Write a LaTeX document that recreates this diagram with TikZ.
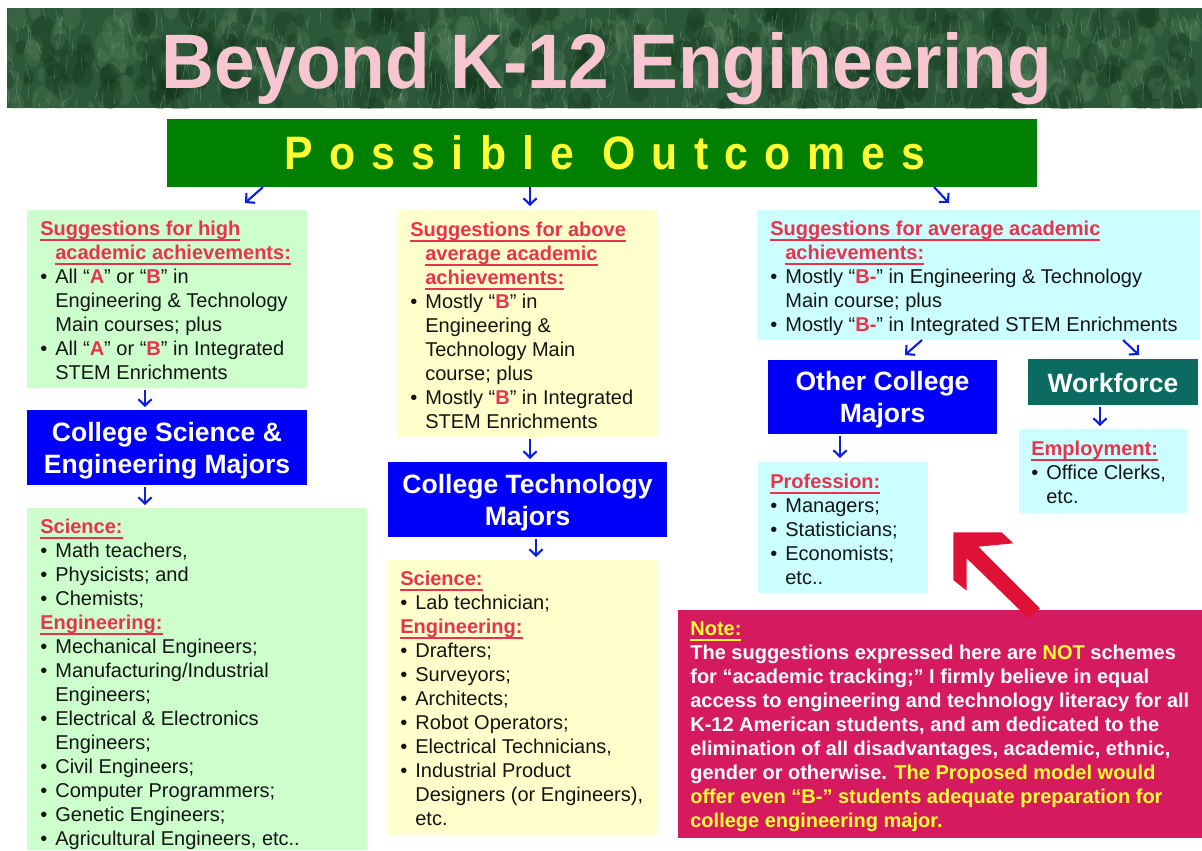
\documentclass[tikz,border=0pt]{standalone}
\usepackage{fontspec}
\setmainfont{Liberation Sans}
\usetikzlibrary{arrows.meta,calc}
\newlength{\pxu}
\setlength{\pxu}{0.02cm}
\newsavebox{\myulbox}
\newcommand{\myul}[1]{\sbox{\myulbox}{#1}\rlap{\rule[-3.1pt]{\wd\myulbox}{0.8pt}}\usebox{\myulbox}}
\definecolor{lgreen}{HTML}{CCFFCC}
\definecolor{lyellow}{HTML}{FFFFCC}
\definecolor{lcyan}{HTML}{CCFFFF}
\definecolor{majblue}{HTML}{0000F8}
\definecolor{wfteal}{HTML}{0B6B60}
\definecolor{hdred}{HTML}{E8334D}
\definecolor{notebg}{HTML}{D61A5F}
\definecolor{noteyel}{HTML}{FFFF33}
\definecolor{bigred}{HTML}{DF1136}
\definecolor{arrblue}{HTML}{0A1EE6}
\definecolor{pogreen}{HTML}{008000}
\definecolor{poyel}{HTML}{FFFF33}
\definecolor{titlepink}{HTML}{F8C6D0}
\definecolor{bandgreen}{HTML}{2B5838}
\definecolor{texlight}{HTML}{6E9A7A}
\definecolor{texdark}{HTML}{123219}
\definecolor{texstroke}{HTML}{A9CBB2}
\definecolor{textblk}{HTML}{141414}
\newcommand{\bodyfont}{\fontsize{11.38pt}{13.66pt}\selectfont}
\newcommand{\majfont}{\fontsize{15.1pt}{18.2pt}\selectfont\bfseries}
\newcommand{\mybul}{\makebox[15\pxu][l]{•}}
\newcommand{\myind}{\hspace*{15\pxu}}
\newcommand{\rl}[1]{\textcolor{hdred}{\bfseries #1}}
\newcommand{\hdr}[1]{\textcolor{hdred}{\bfseries\myul{#1}}}
\tikzset{
  box/.style={anchor=north west, inner sep=0pt, outer sep=0pt},
  txt/.style={anchor=north west, inner sep=0pt, align=left, font=\bodyfont, text=textblk},
  majlbl/.style={inner sep=0pt, text=white, font=\majfont, align=center},
  barrow/.style={draw=arrblue, line width=1.2pt, -{Straight Barb[length=3.6pt,width=7.5pt]}}
}
\begin{document}
\begin{tikzpicture}[x=\pxu, y=-\pxu]
\useasboundingbox (0,0) rectangle (1202,850);
\fill[white] (0,0) rectangle (1202,850);

% title band
\node[box, fill=bandgreen, minimum width=1195\pxu, minimum height=100\pxu] (band) at (7,8) {};
\begin{scope}
\clip (band.north west) rectangle (band.south east);
\pgfmathsetseed{4321}
\foreach \i in {1,...,260}{
  \pgfmathsetmacro{\txa}{7+1195*rnd}
  \pgfmathsetmacro{\tya}{8+100*rnd}
  \pgfmathsetmacro{\tra}{3+8*rnd}
  \fill[texlight, opacity=0.18] (\txa,\tya) ellipse [x radius=\tra\pxu, y radius=1.6*\tra\pxu];
}
\foreach \i in {1,...,220}{
  \pgfmathsetmacro{\txa}{7+1195*rnd}
  \pgfmathsetmacro{\tya}{8+100*rnd}
  \pgfmathsetmacro{\tra}{4+10*rnd}
  \fill[texdark, opacity=0.3] (\txa,\tya) ellipse [x radius=\tra\pxu, y radius=1.3*\tra\pxu];
}
\foreach \i in {1,...,520}{
  \pgfmathsetmacro{\txa}{7+1195*rnd}
  \pgfmathsetmacro{\tya}{8+100*rnd}
  \pgfmathsetmacro{\tdx}{-5+10*rnd}
  \pgfmathsetmacro{\tdy}{6+16*rnd}
  \draw[texstroke, opacity=0.3, line width=0.35pt] (\txa,\tya) -- ++(\tdx,\tdy);
}
\end{scope}
\node[anchor=base, inner sep=0pt, text=titlepink] (title) at (607,88)
  {\resizebox{890\pxu}{56\pxu}{\bfseries Beyond K-12 Engineering}};

% possible outcomes bar
\node[box, fill=pogreen, minimum width=870\pxu, minimum height=68\pxu] (po) at (167,119) {};
\node[inner sep=0pt, text=poyel] (potxt) at ($(po.center)+(3,0)$)
  {\resizebox{640\pxu}{34\pxu}{\bfseries\addfontfeature{LetterSpace=38}Possible Outcomes}};

% boxes
\node[box, fill=lgreen, minimum width=280\pxu, minimum height=178\pxu] (hiA) at (27,210) {};
\node[box, fill=majblue, minimum width=280\pxu, minimum height=75\pxu] (csem) at (27,410) {};
\node[majlbl] (csemT) at ($(csem.center)+(0,3)$) {College Science \&\\Engineering Majors};
\node[box, fill=lgreen, minimum width=340\pxu, minimum height=342\pxu] (sciB) at (27,508) {};
\node[box, fill=lyellow, minimum width=260\pxu, minimum height=227\pxu] (aboveC) at (398,210) {};
\node[box, fill=majblue, minimum width=279\pxu, minimum height=75\pxu] (ctech) at (388,462) {};
\node[majlbl] (ctechT) at ($(ctech.center)+(0,3)$) {College Technology\\Majors};
\node[box, fill=lyellow, minimum width=270\pxu, minimum height=275\pxu] (techD) at (388,560) {};
\node[box, fill=lcyan, minimum width=443\pxu, minimum height=130\pxu] (avgE) at (757,210) {};
\node[box, fill=majblue, minimum width=229\pxu, minimum height=74\pxu] (ocm) at (768,360) {};
\node[majlbl] (ocmT) at ($(ocm.center)+(0,3)$) {Other College\\Majors};
\node[box, fill=wfteal, minimum width=170\pxu, minimum height=46\pxu] (wf) at (1028,359) {};
\node[majlbl] (wfT) at ($(wf.center)+(0,1)$) {Workforce};
\node[box, fill=lcyan, minimum width=168\pxu, minimum height=84\pxu] (emp) at (1019,429) {};
\node[box, fill=lcyan, minimum width=170\pxu, minimum height=131\pxu] (prof) at (758,462) {};
\node[box, fill=notebg, minimum width=524\pxu, minimum height=228\pxu] (note) at (678,610) {};

% texts
\node[txt] (tA) at (40,218) {\strut\hdr{Suggestions for high}\\
\myind\hdr{academic achievements:}\\
\mybul All “\rl{A}” or “\rl{B}” in\\
\myind Engineering \& Technology\\
\myind Main courses; plus\\
\mybul All “\rl{A}” or “\rl{B}” in Integrated\\
\myind STEM Enrichments};

\node[txt] (tB) at (40,516) {\strut\hdr{Science:}\\
\mybul Math teachers,\\
\mybul Physicists; and\\
\mybul Chemists;\\
\hdr{Engineering:}\\
\mybul Mechanical Engineers;\\
\mybul Manufacturing/Industrial\\
\myind Engineers;\\
\mybul Electrical \& Electronics\\
\myind Engineers;\\
\mybul Civil Engineers;\\
\mybul Computer Programmers;\\
\mybul Genetic Engineers;\\
\mybul Agricultural Engineers, etc..};

\node[txt] (tC) at (410,219) {\strut\hdr{Suggestions for above}\\
\myind\hdr{average academic}\\
\myind\hdr{achievements:}\\
\mybul Mostly “\rl{B}” in\\
\myind Engineering \&\\
\myind Technology Main\\
\myind course; plus\\
\mybul Mostly “\rl{B}” in Integrated\\
\myind STEM Enrichments};

\node[txt] (tD) at (400,568) {\strut\hdr{Science:}\\
\mybul Lab technician;\\
\hdr{Engineering:}\\
\mybul Drafters;\\
\mybul Surveyors;\\
\mybul Architects;\\
\mybul Robot Operators;\\
\mybul Electrical Technicians,\\
\mybul Industrial Product\\
\myind Designers (or Engineers),\\
\myind etc.};

\node[txt] (tE) at (770,218) {\strut\hdr{Suggestions for average academic}\\
\myind\hdr{achievements:}\\
\mybul Mostly “\rl{B-}” in Engineering \& Technology\\
\myind Main course; plus\\
\mybul Mostly “\rl{B-}” in Integrated STEM Enrichments};

\node[txt] (tP) at (770,471) {\strut\hdr{Profession:}\\
\mybul Managers;\\
\mybul Statisticians;\\
\mybul Economists;\\
\myind etc..};

\node[txt] (tEm) at (1031,438) {\strut\hdr{Employment:}\\
\mybul Office Clerks,\\
\myind etc.};

\node[txt, font=\bodyfont\bfseries, text=white] (tN) at (690,618) {\strut\textcolor{noteyel}{\myul{Note:}}\\
The suggestions expressed here are \textcolor{noteyel}{NOT} schemes\\
for “academic tracking;” I firmly believe in equal\\
access to engineering and technology literacy for all\\
K-12 American students, and am dedicated to the\\
elimination of all disadvantages, academic, ethnic,\\
gender or otherwise. \textcolor{noteyel}{The Proposed model would}\\
\textcolor{noteyel}{offer even “B-” students adequate preparation for}\\
\textcolor{noteyel}{college engineering major.}};

% blue arrows
\draw[barrow] ($(po.south west)+(96,0)$) -- ($(hiA.north west)+(218,-7)$);
\draw[barrow] ($(po.south west)+(363,0)$) -- ($(aboveC.north west)+(132,-4)$);
\draw[barrow] ($(po.south west)+(767,0)$) -- ($(avgE.north west)+(192,-7)$);
\draw[barrow] ($(hiA.south west)+(118,2)$) -- ($(csem.north west)+(118,-3)$);
\draw[barrow] ($(csem.south west)+(118,2)$) -- ($(sciB.north west)+(118,-3)$);
\draw[barrow] ($(aboveC.south west)+(132,2)$) -- ($(ctech.north west)+(142,-3)$);
\draw[barrow] ($(ctech.south west)+(148,2)$) -- ($(techD.north west)+(148,-3)$);
\draw[barrow] ($(avgE.south west)+(165,0)$) -- ($(ocm.north west)+(137,-5)$);
\draw[barrow] ($(avgE.south west)+(366,0)$) -- ($(wf.north west)+(111,-4)$);
\draw[barrow] ($(ocm.south west)+(72,2)$) -- ($(prof.north west)+(82,-4)$);
\draw[barrow] ($(wf.south west)+(72,2)$) -- ($(emp.north west)+(81,-3)$);

% big red arrow
\fill[bigred] (953.3,532.3) -- (1001.7,532.3) -- (1013.3,543.3) -- (978.3,546.7)
  -- (1040,608.3) -- (1028.3,618.3) -- (966.7,558.3) -- (966.7,590.7) -- (953.3,580) -- cycle;
\end{tikzpicture}
\end{document}
